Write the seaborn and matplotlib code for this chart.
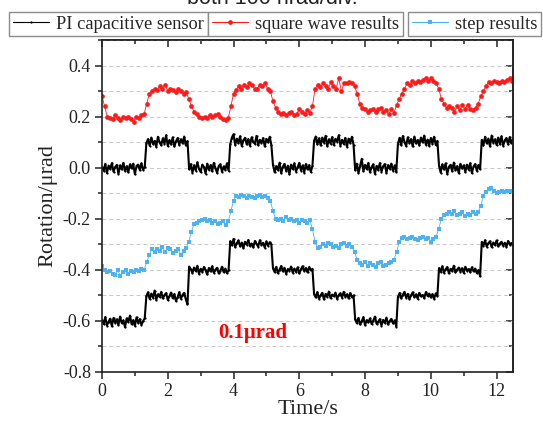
import numpy as np
import matplotlib
matplotlib.use("Agg")
import matplotlib.pyplot as plt
import seaborn as sns
from matplotlib.ticker import MultipleLocator, FuncFormatter

# ---- data -------------------------------------------------------------
# capacitive sensor reference, sampled every 0.05 s
sensor_dt = 0.05
sensor_square = [
    0.004, -0.012, 0.015, -0.021, 0.008, -0.005, 0.018, -0.016, 0.002, 0.011, -0.024, 0.009, -0.007, 0.019,
    -0.013, 0.006, -0.018, 0.013, -0.003, 0.016, -0.026, 0.007, 0.012, -0.010, 0.017, -0.008, 0.003,
    0.097, 0.112, 0.086, 0.118, 0.093, 0.105, 0.082, 0.121, 0.099, 0.088, 0.115, 0.094, 0.127, 0.085,
    0.108, 0.091, 0.119, 0.083, 0.103, 0.116, 0.089, 0.111, 0.095, 0.122, 0.087, 0.104,
    -0.006, 0.014, -0.019, 0.009, -0.011, 0.021, -0.004, -0.017, 0.012, 0.003, -0.023, 0.016, -0.008,
    0.010, -0.014, 0.019, -0.002, -0.020, 0.007, 0.013, -0.016, 0.005, -0.009, 0.017, -0.012,
    0.092, 0.118, 0.131, 0.089, 0.114, 0.096, 0.123, 0.084, 0.107, 0.117, 0.091, 0.112, 0.086, 0.119,
    0.101, 0.094, 0.125, 0.088, 0.109, 0.097, 0.116, 0.083, 0.113, 0.099, 0.121, 0.090,
    0.011, -0.018, 0.006, -0.009, 0.020, -0.022, 0.004, 0.015, -0.013, 0.008, -0.026, 0.012, -0.005,
    0.017, -0.015, 0.002, 0.019, -0.011, 0.009, -0.019, 0.014, -0.007, 0.010, -0.016, 0.006,
    0.106, 0.122, 0.091, 0.115, 0.087, 0.118, 0.098, 0.125, 0.084, 0.111, 0.094, 0.120, 0.089, 0.113,
    0.102, 0.127, 0.086, 0.109, 0.093, 0.117, 0.082, 0.114, 0.097, 0.121, 0.090,
    -0.010, 0.016, -0.021, 0.008, 0.035, -0.014, 0.011, -0.006, 0.019, -0.018, 0.003, 0.013, -0.024,
    0.007, -0.009, 0.018, -0.015, 0.005, 0.014, -0.020, 0.010, -0.004, 0.016, -0.012, 0.009, -0.017,
    0.093, 0.117, 0.088, 0.124, 0.101, 0.085, 0.119, 0.096, 0.112, 0.083, 0.122, 0.095, 0.108, 0.087,
    0.118, 0.099, 0.126, 0.090, 0.110, 0.086, 0.116, 0.094, 0.121, 0.089, 0.105,
    0.008, -0.019, 0.013, -0.007, 0.017, -0.025, 0.004, 0.011, -0.014, 0.020, -0.010, 0.006, -0.022,
    0.015, -0.003, 0.009, -0.017, 0.012, -0.008, 0.018, -0.021, 0.005, 0.014, -0.012, 0.010, -0.006,
    0.109, 0.087, 0.121, 0.095, 0.114, 0.083, 0.126, 0.098, 0.111, 0.089, 0.118, 0.092, 0.123, 0.086,
    0.107, 0.116, 0.091, 0.120, 0.097, 0.112,
]
sensor_step = [
    -0.596, -0.612, -0.585, -0.618, -0.603, -0.591, -0.621, -0.588, -0.607, -0.594, -0.616, -0.583, -0.609,
    -0.598, -0.625, -0.590, -0.604, -0.579, -0.613, -0.597, -0.619, -0.586, -0.608, -0.593, -0.615, -0.601, -0.589,
    -0.502, -0.488, -0.514, -0.493, -0.509, -0.481, -0.517, -0.496, -0.506, -0.486, -0.512, -0.499, -0.491,
    -0.518, -0.504, -0.489, -0.511, -0.495, -0.522, -0.507, -0.487, -0.513, -0.498, -0.490, -0.516, -0.535,
    -0.387, -0.398, -0.412, -0.391, -0.405, -0.384, -0.416, -0.396, -0.408, -0.389, -0.402, -0.418, -0.393,
    -0.406, -0.386, -0.411, -0.399, -0.392, -0.414, -0.403, -0.388, -0.409, -0.395, -0.413, -0.401,
    -0.288, -0.304, -0.279, -0.311, -0.296, -0.285, -0.308, -0.293, -0.315, -0.290, -0.301, -0.283, -0.306,
    -0.297, -0.312, -0.287, -0.299, -0.309, -0.284, -0.302, -0.294, -0.313, -0.289, -0.305, -0.292, -0.300,
    -0.394, -0.409, -0.388, -0.413, -0.399, -0.385, -0.406, -0.392, -0.416, -0.397, -0.403, -0.387, -0.411,
    -0.395, -0.408, -0.390, -0.414, -0.398, -0.386, -0.405, -0.393, -0.410, -0.389, -0.402, -0.396,
    -0.495, -0.508, -0.487, -0.513, -0.499, -0.490, -0.516, -0.494, -0.506, -0.485, -0.511, -0.497, -0.503,
    -0.489, -0.514, -0.498, -0.492, -0.509, -0.486, -0.505, -0.496, -0.512, -0.491, -0.507, -0.500,
    -0.594, -0.609, -0.588, -0.614, -0.601, -0.585, -0.617, -0.597, -0.606, -0.590, -0.612, -0.599, -0.583,
    -0.611, -0.603, -0.593, -0.618, -0.596, -0.608, -0.587, -0.614, -0.600, -0.592, -0.610, -0.598, -0.622,
    -0.506, -0.491, -0.512, -0.497, -0.486, -0.509, -0.494, -0.515, -0.500, -0.488, -0.507, -0.496, -0.513,
    -0.490, -0.504, -0.498, -0.511, -0.487, -0.502, -0.493, -0.508, -0.495, -0.514, -0.492, -0.503,
    -0.393, -0.408, -0.386, -0.411, -0.398, -0.389, -0.414, -0.396, -0.405, -0.384, -0.410, -0.399, -0.391,
    -0.407, -0.394, -0.412, -0.388, -0.403, -0.397, -0.409, -0.390, -0.406, -0.395, -0.413, -0.401, -0.425,
    -0.291, -0.306, -0.284, -0.309, -0.296, -0.288, -0.311, -0.293, -0.303, -0.285, -0.308, -0.297, -0.290,
    -0.305, -0.294, -0.310, -0.287, -0.301, -0.295, -0.304,
]

# measured results, sampled every 0.08 s
result_dt = 0.08
square_wave = [
    0.280, 0.240, 0.200, 0.195, 0.190, 0.205, 0.195, 0.185, 0.200, 0.195, 0.200, 0.190, 0.180, 0.200,
    0.195, 0.205, 0.210, 0.250, 0.290, 0.300, 0.310, 0.305, 0.320, 0.310, 0.325, 0.300, 0.310, 0.305,
    0.295, 0.310, 0.300, 0.290, 0.295, 0.270, 0.240, 0.220, 0.210, 0.200, 0.195, 0.200, 0.195, 0.205,
    0.200, 0.205, 0.210, 0.200, 0.190, 0.185, 0.195, 0.240, 0.290, 0.305, 0.320, 0.310, 0.325, 0.315,
    0.330, 0.325, 0.310, 0.310, 0.325, 0.320, 0.330, 0.310, 0.300, 0.260, 0.235, 0.220, 0.210, 0.215,
    0.205, 0.215, 0.220, 0.205, 0.210, 0.230, 0.220, 0.210, 0.225, 0.215, 0.240, 0.310, 0.325, 0.315,
    0.330, 0.320, 0.310, 0.335, 0.320, 0.310, 0.350, 0.300, 0.330, 0.330, 0.335, 0.330, 0.320, 0.290,
    0.250, 0.235, 0.230, 0.220, 0.225, 0.230, 0.220, 0.230, 0.235, 0.220, 0.225, 0.210, 0.230, 0.215,
    0.245, 0.270, 0.290, 0.310, 0.330, 0.325, 0.340, 0.330, 0.340, 0.335, 0.345, 0.350, 0.340, 0.350,
    0.340, 0.330, 0.310, 0.270, 0.250, 0.235, 0.240, 0.235, 0.220, 0.240, 0.225, 0.245, 0.230, 0.245,
    0.230, 0.225, 0.235, 0.250, 0.280, 0.300, 0.320, 0.335, 0.330, 0.340, 0.335, 0.330, 0.340, 0.335,
    0.345, 0.350, 0.340,
]
step = [
    -0.385, -0.400, -0.410, -0.405, -0.415, -0.420, -0.400, -0.425, -0.410, -0.400, -0.415, -0.405,
    -0.410, -0.400, -0.405, -0.395, -0.400, -0.370, -0.340, -0.320,
    -0.330, -0.320, -0.325, -0.310, -0.330, -0.315, -0.320, -0.335, -0.325, -0.320, -0.340, -0.325, -0.315,
    -0.290, -0.250, -0.220,
    -0.215, -0.210, -0.205, -0.200, -0.210, -0.205, -0.215, -0.210, -0.220, -0.215, -0.210, -0.225, -0.210,
    -0.170, -0.130,
    -0.110, -0.115, -0.105, -0.110, -0.120, -0.110, -0.115, -0.120, -0.110, -0.105, -0.115, -0.110, -0.120,
    -0.130, -0.170, -0.200,
    -0.205, -0.200, -0.210, -0.195, -0.205, -0.200, -0.210, -0.205, -0.215, -0.205, -0.210, -0.215, -0.205,
    -0.240, -0.290,
    -0.315, -0.310, -0.300, -0.305, -0.295, -0.300, -0.310, -0.305, -0.315, -0.300, -0.295, -0.305, -0.300,
    -0.310, -0.330, -0.360,
    -0.375, -0.380, -0.370, -0.385, -0.375, -0.380, -0.390, -0.375, -0.370, -0.385, -0.380, -0.375, -0.370,
    -0.360, -0.330, -0.290,
    -0.275, -0.270, -0.280, -0.275, -0.270, -0.280, -0.285, -0.275, -0.270, -0.280, -0.275, -0.290, -0.280,
    -0.270, -0.240, -0.200,
    -0.185, -0.180, -0.175, -0.180, -0.170, -0.185, -0.180, -0.175, -0.190, -0.180, -0.185, -0.175, -0.180,
    -0.175, -0.150, -0.110,
    -0.095, -0.085, -0.080, -0.090, -0.100, -0.095, -0.090, -0.095, -0.090, -0.090, -0.090,
]

series_labels = ["PI capacitive sensor", "square wave results", "step results"]
scale_note = "0.1\u03bcrad"
header = "both 100 nrad/div."

# ---- style ------------------------------------------------------------
sns.set_style("ticks")
serif = ["Liberation Serif", "DejaVu Serif"]
plt.rcParams["font.family"] = serif

ink = "#222222"
black = "#000000"
red = "#ff1a1a"
blue = "#4db3f0"

fig = plt.figure(figsize=(5.43, 4.21), dpi=100)
ax = fig.add_axes([102 / 543, 1 - 372 / 421, 411 / 543, 332 / 421])

t_sensor = np.arange(len(sensor_square)) * sensor_dt
t_result = np.arange(len(square_wave)) * result_dt

sns.lineplot(x=t_sensor, y=sensor_square, ax=ax, color=black, lw=1.5, sort=False,
             marker="o", markersize=1.6, markeredgewidth=0, label=series_labels[0])
sns.lineplot(x=t_sensor, y=sensor_step, ax=ax, color=black, lw=1.5, sort=False,
             marker="o", markersize=1.6, markeredgewidth=0)
sns.lineplot(x=t_result, y=square_wave, ax=ax, color=red, lw=0.6, sort=False,
             marker="o", markersize=3.4, markeredgewidth=0, label=series_labels[1])
sns.lineplot(x=t_result, y=step, ax=ax, color=blue, lw=0.6, sort=False,
             marker="s", markersize=3.0, markeredgewidth=0, label=series_labels[2])

ax.set_xlim(0, 12.5)
ax.set_ylim(-0.8, 0.5)
ax.xaxis.set_major_locator(MultipleLocator(2))
ax.xaxis.set_minor_locator(MultipleLocator(1))
ax.yaxis.set_minor_locator(MultipleLocator(0.1))
ax.set_yticks([-0.8, -0.6, -0.4, -0.2, 0.0, 0.2, 0.4])
ax.yaxis.set_major_formatter(FuncFormatter(lambda v, p: f"{v:.1f}".replace("-0.0", "0.0")))

for sp in ax.spines.values():
    sp.set_linewidth(1.2)
    sp.set_color(ink)
ax.tick_params(which="both", direction="out", top=False, right=False,
               labelsize=13, width=1.1, colors=ink)
ax.tick_params(which="major", length=5, pad=3)
ax.tick_params(which="minor", length=3)

# mirrored inward ticks on the top and right frame
sec_x = ax.secondary_xaxis("top")
sec_x.xaxis.set_major_locator(MultipleLocator(2))
sec_x.xaxis.set_minor_locator(MultipleLocator(1))
sec_x.tick_params(which="both", direction="in", labeltop=False, width=1.1, colors=ink)
sec_x.tick_params(which="major", length=5)
sec_x.tick_params(which="minor", length=3)
sec_x.spines["top"].set_linewidth(1.2)
sec_y = ax.secondary_yaxis("right")
sec_y.yaxis.set_major_locator(MultipleLocator(0.2))
sec_y.yaxis.set_minor_locator(MultipleLocator(0.1))
sec_y.tick_params(which="both", direction="in", labelright=False, width=1.1, colors=ink)
sec_y.tick_params(which="major", length=5)
sec_y.tick_params(which="minor", length=3)
sec_y.spines["right"].set_linewidth(1.2)

ax.yaxis.grid(True, which="both", linestyle=(0, (4, 3)), color="#c8c8c8", lw=0.7)
ax.set_axisbelow(True)

ax.set_xlabel("Time/s", fontsize=16, labelpad=0, color=ink)
ax.set_ylabel("Rotation/\u03bcrad", fontsize=16, labelpad=4, color=ink)

ax.text(3.53, -0.648, scale_note, color="#ff0000", fontsize=15, fontweight="bold",
        va="center", ha="left")

# one framed legend box per series along the top
handles, labels = ax.get_legend_handles_labels()
if ax.get_legend() is not None:
    ax.get_legend().remove()
box_left = [9 / 543, 208 / 543, 408 / 543]
for h, lab, x0 in zip(handles, labels, box_left):
    leg = fig.legend([h], [lab], loc="upper left", bbox_to_anchor=(x0, 1 - 12 / 421),
                     frameon=True, fancybox=False, fontsize=13.2, handlelength=2.0,
                     handletextpad=0.38, borderpad=0.2, borderaxespad=0)
    leg.get_frame().set_edgecolor("#8c8c8c")
    leg.get_frame().set_linewidth(1.0)
    leg.get_frame().set_alpha(1)
    for line in leg.get_lines():
        line.set_linewidth(0.8)

fig.text(272 / 543, 1 - 4 / 421, header, ha="center", va="baseline",
         fontsize=15.5, family=["Liberation Sans", "DejaVu Sans"], color=ink)

fig.savefig("out.png", dpi=100)
